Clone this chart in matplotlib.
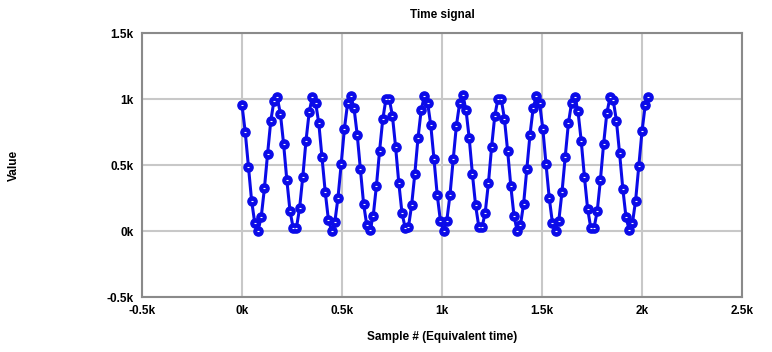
import numpy as np
import matplotlib
matplotlib.use("Agg")
import matplotlib.pyplot as plt
from matplotlib.ticker import FuncFormatter, MultipleLocator

plt.rcParams['font.family'] = ['Liberation Sans Narrow', 'Liberation Sans', 'DejaVu Sans']

# sample spacing (equivalent time) and values
sample_step = 16
values = [
    952, 752, 487, 230, 58, 3, 104, 323, 586, 836, 987, 1012, 889, 659, 389, 152,
    23, 23, 174, 412, 684, 901, 1018, 972, 816, 561, 298, 86, 0, 66, 253, 508,
    775, 967, 1023, 932, 730, 467, 205, 43, 5, 114, 341, 609, 848, 1002, 1002, 874,
    636, 364, 136, 23, 28, 194, 432, 704, 917, 1023, 972, 800, 543, 275, 78, 0,
    78, 275, 543, 798, 967, 1028, 917, 704, 432, 194, 33, 28, 139, 361, 636, 874,
    1002, 1002, 851, 609, 341, 114, 0, 43, 205, 467, 730, 932, 1023, 967, 775, 508,
    253, 63, 0, 78, 295, 561, 816, 972, 1018, 906, 684, 412, 169, 23, 23, 149,
    386, 659, 891, 1012, 992, 836, 588, 321, 104, 8, 58, 230, 492, 755, 952, 1018,
]
samples = np.arange(len(values)) * sample_step

x_range = (-500, 2500)
y_range = (-500, 1500)

fig = plt.figure(figsize=(7.72, 3.52), dpi=100)
ax = fig.add_axes([142 / 772, 55 / 352, 600 / 772, 264 / 352])

blue = '#0b0be8'
ax.plot(samples, values, color=blue, lw=2.2, marker='o', ms=6.6,
        mfc=blue, mec=blue, zorder=3)
# small white dash inside each marker
ax.plot(samples, values, ls='none', marker='_', ms=2.0, mew=0.8,
        color='white', zorder=4)

ax.set_xlim(*x_range)
ax.set_ylim(*y_range)
ax.xaxis.set_major_locator(MultipleLocator(500))
ax.yaxis.set_major_locator(MultipleLocator(500))
fmt = FuncFormatter(lambda v, p: f"{v / 1000:g}k")
ax.xaxis.set_major_formatter(fmt)
ax.yaxis.set_major_formatter(fmt)

ax.grid(True, color='#c8c8c8', lw=1.5)
ax.set_axisbelow(True)
for s in ax.spines.values():
    s.set_color('#8a8a8a')
    s.set_linewidth(1.5)
ax.tick_params(length=0, labelsize=8.5, pad=6)
for lab in ax.get_xticklabels() + ax.get_yticklabels():
    lab.set_fontweight('bold')

ax.set_title("Time signal", fontsize=8.5, fontweight='bold', pad=11)
ax.set_xlabel("Sample # (Equivalent time)", fontsize=8.5, fontweight='bold', labelpad=10)
fig.text(14 / 772, 1 - 165 / 352, "Value", rotation=90, fontsize=8.5,
         fontweight='bold', ha='center', va='center')

fig.savefig("out.png", dpi=100)
